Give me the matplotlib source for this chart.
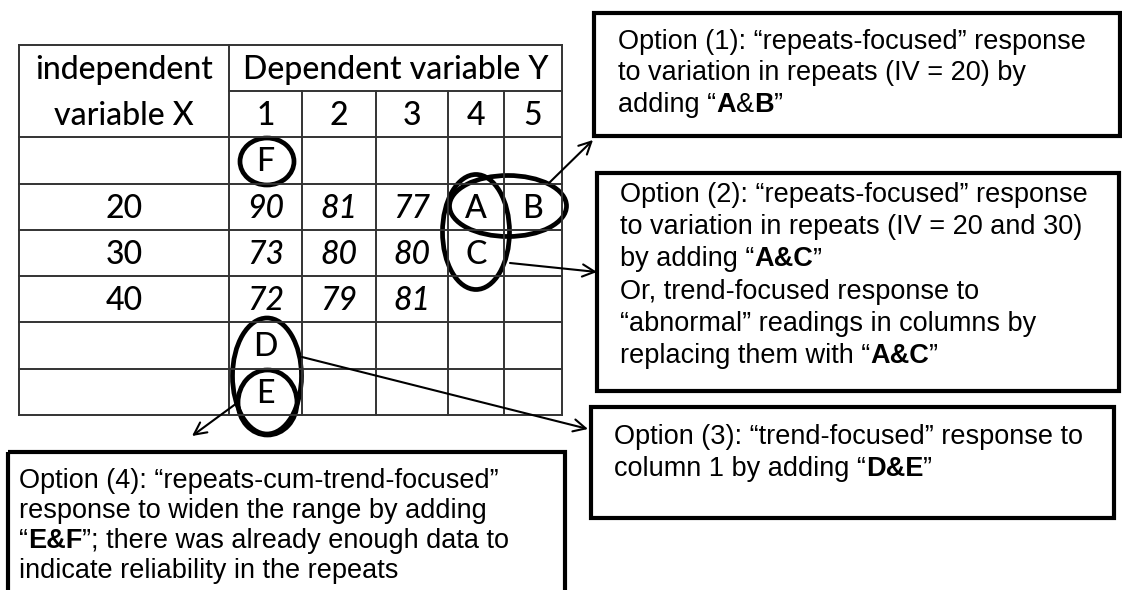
import matplotlib.pyplot as plt
from matplotlib.patches import Ellipse, Rectangle

# table content
header_left = ['independent', 'variable X']
header_top = 'Dependent variable Y'
repeat_labels = ['1', '2', '3', '4', '5']
iv_values = ['', '20', '30', '40', '', '']
y_readings = [
    ['', '', '', '', ''],
    ['90', '81', '77', '', ''],
    ['73', '80', '80', '', ''],
    ['72', '79', '81', '', ''],
    ['', '', '', '', ''],
    ['', '', '', '', ''],
]
# suggested extra readings: letter, body row, repeat column
added_letters = ['F', 'A', 'B', 'C', 'D', 'E']
added_rows = [0, 1, 1, 2, 4, 5]
added_cols = [0, 3, 4, 3, 0, 0]

# option boxes, **...** marks bold
option1 = ['Option (1): “repeats-focused” response',
           'to variation in repeats (IV = 20) by',
           'adding “**A**&**B**”']
option2 = ['Option (2): “repeats-focused” response',
           'to variation in repeats (IV = 20 and 30)',
           'by adding “**A&C**”',
           'Or, trend-focused response to',
           '“abnormal” readings in columns by',
           'replacing them with “**A&C**”']
option3 = ['Option (3): “trend-focused” response to',
           'column 1 by adding “**D&E**”']
option4 = ['Option (4): “repeats-cum-trend-focused”',
           'response to widen the range by adding',
           '“**E&F**”; there was already enough data to',
           'indicate reliability in the repeats']

TABLE_FONT = 'Lato'
BOX_FONT = 'Liberation Sans'

fig = plt.figure(figsize=(11.22, 5.9), dpi=100)
ax = fig.add_axes([0, 0, 1, 1])
ax.set_xlim(0, 1122)
ax.set_ylim(590, 0)
ax.axis('off')
renderer = fig.canvas.get_renderer()

# table grid (pixel layout)
col_edges = [19, 229, 302, 376, 448, 504, 562]
row_edges = [45, 91, 137, 183.5, 230, 276, 322, 369, 415]
grid_kw = dict(color='#333333', lw=1.4)
left, right = col_edges[0], col_edges[-1]
top, bottom = row_edges[0], row_edges[-1]
for x in [left, col_edges[1], right]:
    ax.plot([x, x], [top, bottom], **grid_kw)
for x in col_edges[2:-1]:
    ax.plot([x, x], [row_edges[1], bottom], **grid_kw)
ax.plot([col_edges[1], right], [row_edges[1], row_edges[1]], **grid_kw)
for y in [top] + row_edges[2:]:
    ax.plot([left, right], [y, y], **grid_kw)

def cell_center(r, c):
    return (col_edges[c] + col_edges[c + 1]) / 2, (row_edges[r] + row_edges[r + 1]) / 2

tkw = dict(family=TABLE_FONT, size=23, weight='medium', ha='center', va='baseline')
off = 11
cx0 = (col_edges[0] + col_edges[1]) / 2
ax.text(cx0, cell_center(0, 0)[1] + off, header_left[0], **tkw)
ax.text(cx0, cell_center(1, 0)[1] + off, header_left[1], **tkw)
ax.text((col_edges[1] + right) / 2, cell_center(0, 0)[1] + off, header_top, **tkw)
for j, lab in enumerate(repeat_labels):
    x, y = cell_center(1, j + 1)
    ax.text(x, y + off, lab, **tkw)

for i, iv in enumerate(iv_values):
    x, y = cell_center(i + 2, 0)
    ax.text(x, y + off, iv, **tkw)
    for j, val in enumerate(y_readings[i]):
        x, y = cell_center(i + 2, j + 1)
        ax.text(x, y + off, val, style='italic', **tkw)

for letter, r, c in zip(added_letters, added_rows, added_cols):
    x, y = cell_center(r + 2, c + 1)
    ax.text(x, y + off, letter, **tkw)

# ellipses around the suggested readings
ell_kw = dict(fill=False, ec='black', lw=3.4)
ax.add_patch(Ellipse((267, 161.5), 54, 47, **ell_kw))
ax.add_patch(Ellipse((476, 232), 67, 115, **ell_kw))
ax.add_patch(Ellipse((508, 206), 117, 61, **ell_kw))
ax.add_patch(Ellipse((267, 376), 69, 116, **ell_kw))
ax.add_patch(Ellipse((267.5, 402.5), 59, 65, **ell_kw))

# arrows to the option boxes
arr_kw = dict(arrowstyle='->', color='black', lw=1.5, mutation_scale=22, shrinkA=0, shrinkB=0)
ax.annotate('', xy=(593, 140), xytext=(549, 183), arrowprops=arr_kw)
ax.annotate('', xy=(597, 272), xytext=(510, 263), arrowprops=arr_kw)
ax.annotate('', xy=(588, 429), xytext=(302, 357), arrowprops=arr_kw)
ax.annotate('', xy=(192, 436), xytext=(237, 403), arrowprops=arr_kw)

# option boxes
def draw_line(tx, ty, line):
    # alternate plain / bold pieces, placed one after another
    x = tx
    for k, piece in enumerate(line.split('**')):
        if not piece:
            continue
        t = ax.text(x, ty, piece, family=BOX_FONT, size=19.5, ha='left', va='baseline',
                    weight='bold' if k % 2 else 'normal')
        x += t.get_window_extent(renderer).width

def option_box(x0, y0, x1, y1, lines, tx, ty, step=31.5):
    ax.add_patch(Rectangle((x0, y0), x1 - x0, y1 - y0, fill=False, ec='black', lw=3, clip_on=False))
    for k, line in enumerate(lines):
        draw_line(tx, ty + k * step, line)

option_box(594, 13, 1120, 136, option1, 618, 49)
option_box(597, 173, 1119, 391, option2, 620, 202, 32.2)
option_box(591, 407, 1114, 518, option3, 614, 444)
option_box(8, 452, 565, 620, option4, 19, 488, 30)

fig.savefig('out.png', dpi=100)
